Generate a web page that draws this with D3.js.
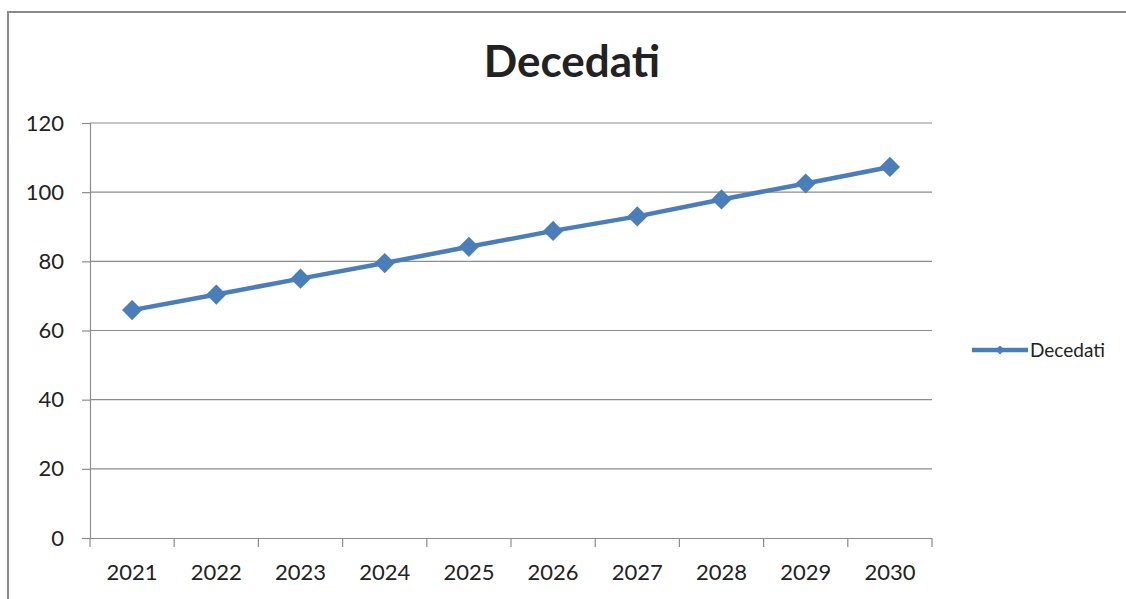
<!DOCTYPE html>
<html>
<head>
<meta charset="utf-8">
<script src="https://cdn.jsdelivr.net/npm/d3@7"></script>
<style>
  body { margin: 0; background: #fff; }
  text { font-family: Lato, "Open Sans", sans-serif; fill: #222; }
</style>
</head>
<body>
<div id="chart"></div>
<script>
// data
let years = ['2021', '2022', '2023', '2024', '2025', '2026', '2027', '2028', '2029', '2030'];
let decedati = [65.9, 70.4, 75.0, 79.5, 84.2, 88.8, 93.0, 97.9, 102.5, 107.3];
let yTicks = [0, 20, 40, 60, 80, 100, 120];
let seriesName = 'Decedati';
let titleText = 'Decedati';

let width = 1126, height = 599;
let blue = '#4a7ebb';
let grid = '#8c8c8c';

let svg = d3.select('#chart').append('svg')
    .attr('width', width).attr('height', height);

// outer frame (only left and top visible)
svg.append('path')
    .attr('d', 'M8,599 L8,12 L1126,12')
    .attr('fill', 'none')
    .attr('stroke', '#8a8a8a')
    .attr('stroke-width', 2);

let x = d3.scaleBand().domain(years).range([90, 932]);
let y = d3.scaleLinear().domain([0, 120]).range([538, 123]);

// gridlines
svg.append('g').selectAll('line')
    .data(yTicks.filter(d => d > 0))
    .enter().append('line')
    .attr('x1', 90).attr('x2', 932)
    .attr('y1', d => y(d)).attr('y2', d => y(d))
    .attr('stroke', grid).attr('stroke-width', 1.2);

// y axis
let yAxis = svg.append('g')
    .attr('transform', 'translate(90,0)')
    .call(d3.axisLeft(y).tickValues(yTicks).tickSize(8).tickPadding(18));
yAxis.select('.domain').attr('stroke', grid).attr('stroke-width', 1.2);
yAxis.selectAll('line').attr('stroke', grid).attr('stroke-width', 1.2);
yAxis.selectAll('text').style('font-size', '22px').attr('fill', '#222');

// x axis, ticks on band boundaries
let xAxis = svg.append('g')
    .attr('transform', 'translate(0,538)')
    .call(d3.axisBottom(x).tickSize(0).tickPadding(26));
xAxis.select('.domain').attr('d', 'M82,0.5H932').attr('stroke', grid).attr('stroke-width', 1.2);
xAxis.selectAll('text').style('font-size', '22px').attr('fill', '#222');
let bounds = years.map(d => x(d)).concat([x(years[years.length - 1]) + x.bandwidth()]);
svg.append('g').selectAll('line')
    .data(bounds)
    .enter().append('line')
    .attr('x1', d => d).attr('x2', d => d)
    .attr('y1', 538).attr('y2', 547)
    .attr('stroke', grid).attr('stroke-width', 1.2);

// title
svg.append('text')
    .attr('x', 572).attr('y', 77)
    .attr('text-anchor', 'middle')
    .style('font-size', '44px')
    .style('font-weight', 'bold')
    .attr('fill', '#000')
    .text(titleText);

// line
let cx = (d, i) => x(years[i]) + x.bandwidth() / 2;
let line = d3.line()
    .x(cx)
    .y(d => y(d));

svg.append('path')
    .datum(decedati)
    .attr('d', line)
    .attr('fill', 'none')
    .attr('stroke', blue)
    .attr('stroke-width', 4.5)
    .attr('stroke-linejoin', 'round');

let diamond = d3.symbol().type(d3.symbolDiamond2).size(260);
svg.append('g').selectAll('path')
    .data(decedati)
    .enter().append('path')
    .attr('d', diamond)
    .attr('transform', (d, i) => 'translate(' + cx(d, i) + ',' + y(d) + ')')
    .attr('fill', blue);

// legend
let lg = svg.append('g').attr('transform', 'translate(972,350)');
lg.append('line')
    .attr('x1', 0).attr('x2', 56)
    .attr('y1', 0).attr('y2', 0)
    .attr('stroke', blue).attr('stroke-width', 4.5);
lg.append('path')
    .attr('d', d3.symbol().type(d3.symbolDiamond2).size(50))
    .attr('transform', 'translate(28,0)')
    .attr('fill', blue);
lg.append('text')
    .attr('x', 58).attr('y', 7)
    .style('font-size', '19px')
    .text(seriesName);
</script>
</body>
</html>
